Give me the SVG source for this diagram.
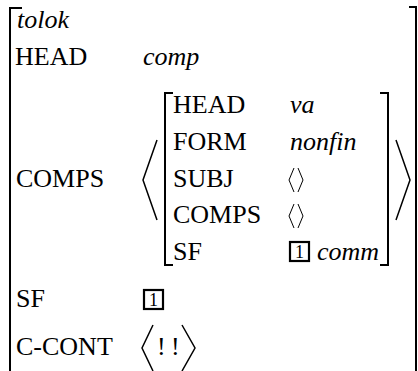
<svg xmlns="http://www.w3.org/2000/svg" width="418" height="371" viewBox="0 0 418 371">
<rect width="418" height="371" fill="#fff"/>
<g id="outer-avm">
<polyline fill="none" stroke="#000" stroke-width="2" points="22,8 10,8 10,371"/>
<polyline fill="none" stroke="#000" stroke-width="2" points="409,7 416,7 416,371"/>
<text font-family="Liberation Serif" font-size="26" x="17" y="28" font-style="italic">tolok</text>
<text font-family="Liberation Serif" font-size="26" x="15" y="65">HEAD</text>
<text font-family="Liberation Serif" font-size="26" x="143" y="65" font-style="italic">comp</text>
<text font-family="Liberation Serif" font-size="26" x="16" y="187">COMPS</text>
<text font-family="Liberation Serif" font-size="26" x="16" y="307">SF</text>
<rect fill="none" stroke="#000" stroke-width="2.2" x="144" y="290" width="19" height="19"/>
<text font-family="Liberation Serif" font-size="18" x="153.5" y="306" text-anchor="middle">1</text>
<text font-family="Liberation Serif" font-size="26" x="16" y="355">C-CONT</text>
<polyline fill="none" stroke="#000" stroke-width="1.5" points="153,325 142,348 153,371"/>
<text font-family="Liberation Serif" font-size="26" x="157" y="355">!</text>
<text font-family="Liberation Serif" font-size="26" x="171" y="355">!</text>
<polyline fill="none" stroke="#000" stroke-width="1.5" points="182,325 195,348 182,371"/>
</g>
<g id="comps-list" fill="none" stroke="#000" stroke-width="1.5">
<polyline points="157,140 143,180 157,220"/>
<polyline points="396,140 410,180 396,220"/>
</g>
<g id="inner-avm">
<polyline fill="none" stroke="#000" stroke-width="2" points="173,93 165,93 165,265 173,265"/>
<polyline fill="none" stroke="#000" stroke-width="2" points="380,93 388,93 388,265 380,265"/>
<text font-family="Liberation Serif" font-size="26" x="173" y="113">HEAD</text>
<text font-family="Liberation Serif" font-size="26" x="290" y="113" font-style="italic">va</text>
<text font-family="Liberation Serif" font-size="26" x="173" y="150">FORM</text>
<text font-family="Liberation Serif" font-size="26" x="290" y="150" font-style="italic">nonfin</text>
<text font-family="Liberation Serif" font-size="26" x="173" y="187">SUBJ</text>
<polyline fill="none" stroke="#000" stroke-width="1" points="294,168 289,180 294,192"/>
<polyline fill="none" stroke="#000" stroke-width="1" points="298,168 303,180 298,192"/>
<text font-family="Liberation Serif" font-size="26" x="173" y="223">COMPS</text>
<polyline fill="none" stroke="#000" stroke-width="1" points="294,204 289,216 294,228"/>
<polyline fill="none" stroke="#000" stroke-width="1" points="298,204 303,216 298,228"/>
<text font-family="Liberation Serif" font-size="26" x="173" y="260">SF</text>
<rect fill="none" stroke="#000" stroke-width="2.2" x="290" y="242" width="19" height="19"/>
<text font-family="Liberation Serif" font-size="18" x="299.5" y="258" text-anchor="middle">1</text>
<text font-family="Liberation Serif" font-size="26" x="317" y="260" font-style="italic">comm</text>
</g>
</svg>
